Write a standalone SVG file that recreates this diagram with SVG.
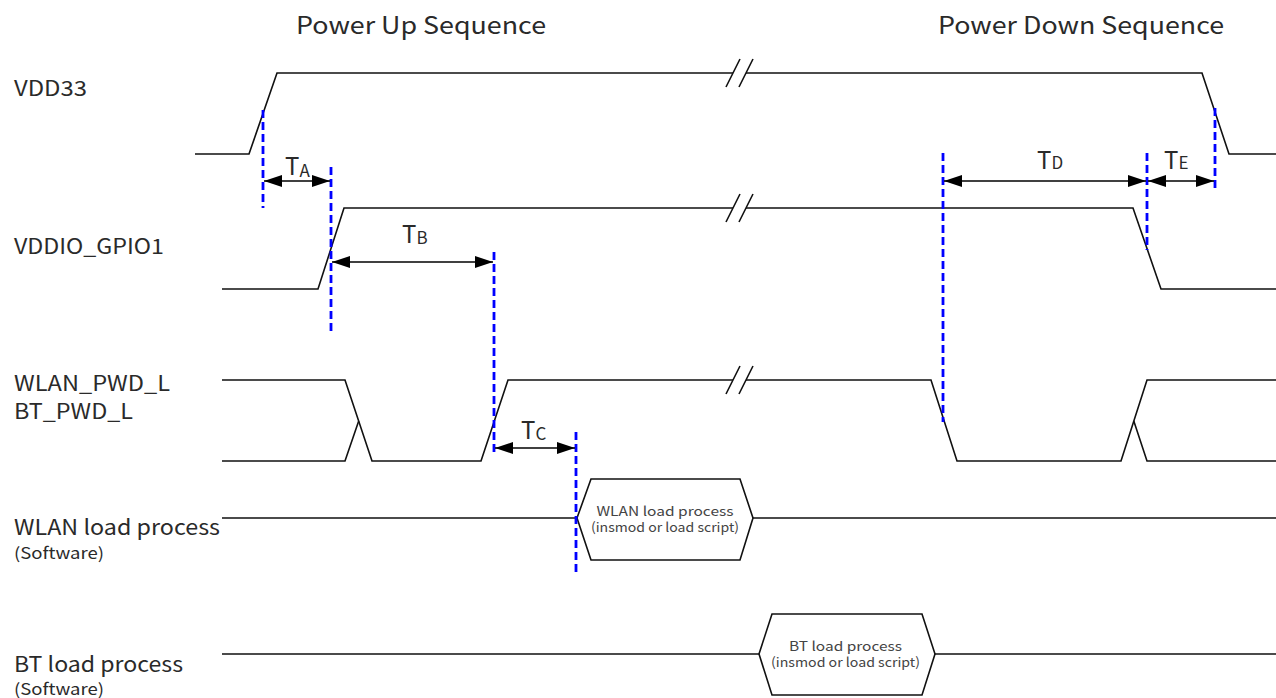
<svg xmlns="http://www.w3.org/2000/svg" width="1276" height="698" viewBox="0 0 1276 698">
<defs>
<style>
.t{font-family:"Noto Sans CJK JP","Noto Sans",sans-serif;fill:#2a2a2a}
.lab{font-size:21px}
.sm{font-size:16px}
.hd{font-size:24px}
.big{font-size:24px}
.sub{font-size:17px}
.hx{font-size:13px;fill:#444}
.sig{fill:none;stroke:#111;stroke-width:1.6}
.dash{fill:none;stroke:#0000ff;stroke-width:2.8;stroke-dasharray:8 4}
.arr{fill:none;stroke:#000;stroke-width:1.6;marker-start:url(#ah);marker-end:url(#ah)}
</style>
<marker id="ah" viewBox="0 0 18 12" refX="18" refY="6" markerWidth="18" markerHeight="12" markerUnits="userSpaceOnUse" orient="auto-start-reverse">
<path d="M0,0 L18,6 L0,12 Z" fill="#000"/>
</marker>
</defs>
<rect width="1276" height="698" fill="#fff"/>

<g id="titles">
<text class="t hd" x="296" y="34" textLength="250" lengthAdjust="spacingAndGlyphs">Power Up Sequence</text>
<text class="t hd" x="938" y="34" textLength="286" lengthAdjust="spacingAndGlyphs">Power Down Sequence</text>
</g>

<g id="labels">
<text class="t lab" x="14" y="96" textLength="73" lengthAdjust="spacingAndGlyphs">VDD33</text>
<text class="t lab" x="14" y="254" textLength="150" lengthAdjust="spacingAndGlyphs">VDDIO_GPIO1</text>
<text class="t lab" x="14" y="391" textLength="156" lengthAdjust="spacingAndGlyphs">WLAN_PWD_L</text>
<text class="t lab" x="14" y="419" textLength="119" lengthAdjust="spacingAndGlyphs">BT_PWD_L</text>
<text class="t lab" x="14" y="535" textLength="206" lengthAdjust="spacingAndGlyphs">WLAN load process</text>
<text class="t sm" x="14" y="559" textLength="90" lengthAdjust="spacingAndGlyphs">(Software)</text>
<text class="t lab" x="14" y="672" textLength="169" lengthAdjust="spacingAndGlyphs">BT load process</text>
<text class="t sm" x="14" y="695" textLength="90" lengthAdjust="spacingAndGlyphs">(Software)</text>
</g>

<g id="signals">
<path class="sig" d="M195,154 H249 L277,73 H733 M746,73 H1202 L1229,154 H1276"/>
<path class="sig" d="M726,87 L740,59 M739,87 L753,59"/>
<path class="sig" d="M222,289 H318 L344,208 H733 M746,208 H1133 L1161,289 H1276"/>
<path class="sig" d="M726,222 L740,194 M739,222 L753,194"/>
<path class="sig" d="M222,380 H345 L372,461 H481 L508,380 H733 M746,380 H931 L957,461 H1121 L1147,380 H1276"/>
<path class="sig" d="M726,394 L740,366 M739,394 L753,366"/>
<path class="sig" d="M222,461 H345 L358.7,421 M1133.8,421 L1147,461 H1276"/>
</g>

<g id="wlan-load">
<path class="sig" d="M222,518 H577 M753,518 H1276"/>
<polygon class="sig" points="577,518 591,479 740,479 753,518 740,560 591,560"/>
<text class="t hx" x="665" y="516" text-anchor="middle" textLength="137" lengthAdjust="spacingAndGlyphs">WLAN load process</text>
<text class="t hx" x="665" y="532" text-anchor="middle" textLength="148" lengthAdjust="spacingAndGlyphs">(insmod or load script)</text>
</g>

<g id="bt-load">
<path class="sig" d="M222,654 H759 M935,654 H1276"/>
<polygon class="sig" points="759,654 772,614 922,614 935,654 922,695 772,695"/>
<text class="t hx" x="845.5" y="651" text-anchor="middle" textLength="113" lengthAdjust="spacingAndGlyphs">BT load process</text>
<text class="t hx" x="845.5" y="667" text-anchor="middle" textLength="149" lengthAdjust="spacingAndGlyphs">(insmod or load script)</text>
</g>

<g id="markers">
<line class="dash" x1="263" y1="110" x2="263" y2="208"/>
<line class="dash" x1="331" y1="167" x2="331" y2="334"/>
<line class="dash" x1="494" y1="252" x2="494" y2="452"/>
<line class="dash" x1="576" y1="432" x2="576" y2="573"/>
<line class="dash" x1="943" y1="153" x2="943" y2="422"/>
<line class="dash" x1="1147" y1="153" x2="1147" y2="250"/>
<line class="dash" x1="1215" y1="108" x2="1215" y2="189"/>
</g>

<g id="connectors">
<line class="arr" x1="264" y1="181" x2="330" y2="181"/>
<line class="arr" x1="332" y1="262" x2="493" y2="262"/>
<line class="arr" x1="495" y1="448" x2="575" y2="448"/>
<line class="arr" x1="944" y1="181" x2="1146" y2="181"/>
<line class="arr" x1="1148" y1="181" x2="1214" y2="181"/>
</g>

<g id="timing-labels">
<text class="t" x="285" y="175"><tspan class="big">T</tspan><tspan class="sub" dy="2">A</tspan></text>
<text class="t" x="402" y="243"><tspan class="big">T</tspan><tspan class="sub" dy="1">B</tspan></text>
<text class="t" x="521" y="439"><tspan class="big">T</tspan><tspan class="sub" dy="1">C</tspan></text>
<text class="t" x="1037" y="169"><tspan class="big">T</tspan><tspan class="sub" dy="0">D</tspan></text>
<text class="t" x="1164" y="169"><tspan class="big">T</tspan><tspan class="sub" dy="0">E</tspan></text>
</g>
</svg>
